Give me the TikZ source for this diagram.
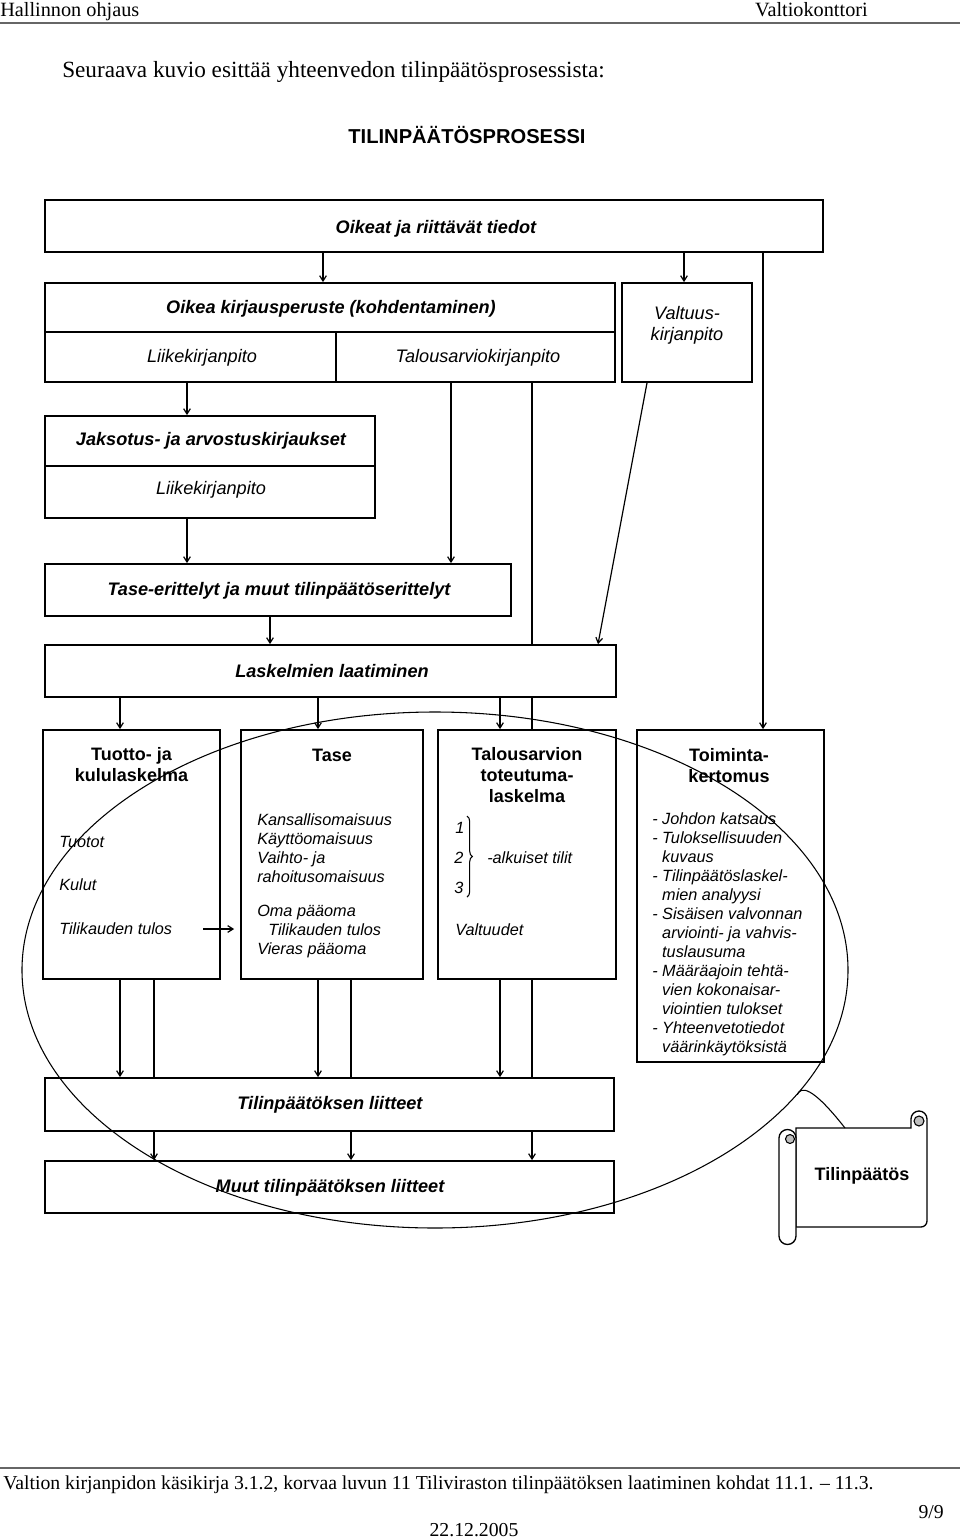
\documentclass[tikz,border=0pt]{standalone}
\usepackage{fontspec}
\setmainfont{Liberation Serif}
\setsansfont{Liberation Sans}
\usetikzlibrary{arrows.meta,shapes.geometric,fit,calc,decorations.pathreplacing}
\pgfdeclarelayer{background}
\pgfsetlayers{background,main}
\begin{document}
\begin{tikzpicture}[x=0.75pt,y=-0.75pt,
  box/.style={draw,line width=1.3pt,fill=white,inner sep=0pt},
  conn/.style={line width=0.9pt},
  arr/.style={line width=0.9pt,-{Straight Barb[length=4pt,width=5pt]}},
  tbi/.style={font=\sffamily\bfseries\itshape\fontsize{13.6}{16}\selectfont,inner sep=0pt,anchor=base},
  tit/.style={font=\sffamily\itshape\fontsize{13.6}{16}\selectfont,inner sep=0pt,anchor=base},
  hd/.style={font=\sffamily\bfseries\fontsize{13.5}{16.1}\selectfont,inner sep=0pt,anchor=base},
  sm/.style={font=\sffamily\itshape\fontsize{12.2}{14.3}\selectfont,inner sep=0pt,anchor=base west},
  ser/.style={inner sep=0pt},
  rulel/.style={line width=1.6pt,black!60}
]
\useasboundingbox (0,0) rectangle (960,1538);

% header and footer
\node[ser,anchor=base west,font=\fontsize{15.2}{18}\selectfont] (h1) at (0,17) {Hallinnon ohjaus};
\node[ser,anchor=base east,font=\fontsize{15.2}{18}\selectfont] (h2) at (868,17) {Valtiokonttori};
\draw[rulel] (0,23) -- (960,23);
\node[ser,anchor=base west,font=\fontsize{17.4}{21}\selectfont] (intro) at (62,78) {Seuraava kuvio esittää yhteenvedon tilinpäätösprosessista:};
\node[inner sep=0pt,anchor=base,font=\sffamily\bfseries\fontsize{15.1}{18}\selectfont] (title) at (467,143) {TILINPÄÄTÖSPROSESSI};
\draw[rulel] (0,1468) -- (960,1468);
\node[ser,anchor=base west,font=\fontsize{14.8}{18}\selectfont] (f1) at (3,1489) {Valtion kirjanpidon käsikirja 3.1.2, korvaa luvun 11 Tiliviraston tilinpäätöksen laatiminen kohdat 11.1. – 11.3.};
\node[ser,anchor=base east,font=\fontsize{14.8}{18}\selectfont] (f2) at (944,1518) {9/9};
\node[ser,anchor=base,font=\fontsize{14.8}{18}\selectfont] (f3) at (474,1536) {22.12.2005};

% x positions of connectors
\foreach \n in {120,154,187,270,318,323,351,451,500,532,598,647,684,763} \coordinate (c\n) at (\n,0);

% boxes
\node[box,fit={(45,200)(823,252)}] (A) {};
\node[box,fit={(45,283)(615,332)}] (Bt) {};
\node[box,fit={(45,332)(336,382)}] (Bl) {};
\node[box,fit={(336,332)(615,382)}] (Br) {};
\node[box,fit={(622,283)(752,382)}] (V) {};
\node[box,fit={(45,416)(375,466)}] (Jt) {};
\node[box,fit={(45,466)(375,518)}] (Jb) {};
\node[box,fit={(45,564)(511,616)}] (T) {};
\node[box,fit={(45,645)(616,697)}] (L) {};
\node[box,fit={(43,730)(220,979)}] (K1) {};
\node[box,fit={(241,730)(423,979)}] (K2) {};
\node[box,fit={(438,730)(616,979)}] (K3) {};
\node[box,fit={(637,730)(824,1062)}] (K4) {};
\node[box,fit={(45,1078)(614,1131)}] (LI) {};
\node[box,fit={(45,1161)(614,1213)}] (MU) {};

% connectors
\begin{pgfonlayer}{background}
\draw[arr] (A.south -| c323) -- (Bt.north -| c323);
\draw[arr] (A.south -| c684) -- (V.north -| c684);
\draw[arr] (A.south -| c763) -- (K4.north -| c763);
\draw[arr] (Bl.south -| c187) -- (Jt.north -| c187);
\draw[arr] (Br.south -| c451) -- (T.north -| c451);
\draw[conn] (Br.south -| c532) -- (K3.north -| c532);
\draw[arr] (V.south -| c647) -- (L.north -| c598);
\draw[arr] (Jb.south -| c187) -- (T.north -| c187);
\draw[arr] (T.south -| c270) -- (L.north -| c270);
\draw[arr] (L.south -| c120) -- (K1.north -| c120);
\draw[arr] (L.south -| c318) -- (K2.north -| c318);
\draw[arr] (L.south -| c500) -- (K3.north -| c500);
\draw[arr] (K1.south -| c120) -- (LI.north -| c120);
\draw[arr] (K2.south -| c318) -- (LI.north -| c318);
\draw[arr] (K3.south -| c500) -- (LI.north -| c500);
\draw[conn] (K1.south -| c154) -- (LI.north -| c154);
\draw[conn] (K2.south -| c351) -- (LI.north -| c351);
\draw[conn] (K3.south -| c532) -- (LI.north -| c532);
\draw[arr] (LI.south -| c154) -- (MU.north -| c154);
\draw[arr] (LI.south -| c351) -- (MU.north -| c351);
\draw[arr] (LI.south -| c532) -- (MU.north -| c532);
\end{pgfonlayer}

% texts
\node[tbi] (tA) at (436,233) {Oikeat ja riittävät tiedot};
\node[tbi] (tBt) at (331,313) {Oikea kirjausperuste (kohdentaminen)};
\node[tit] (tBl) at (202,362) {Liikekirjanpito};
\node[tit] (tBr) at (478,362) {Talousarviokirjanpito};
\node[tit] (tV) at (687,319) {\begin{tabular}[t]{@{}c@{}}Valtuus-\\kirjanpito\end{tabular}};
\node[tbi] (tJt) at (211,445) {Jaksotus- ja arvostuskirjaukset};
\node[tit] (tJb) at (211,494) {Liikekirjanpito};
\node[tbi] (tT) at (279,595) {Tase-erittelyt ja muut tilinpäätöserittelyt};
\node[tbi] (tL) at (332,677) {Laskelmien laatiminen};

\node[hd] (hK1) at (131.5,760) {\begin{tabular}[t]{@{}c@{}}Tuotto- ja\\kululaskelma\end{tabular}};
\node[sm] (k1a) at (59,847) {Tuotot};
\node[sm] (k1b) at (59,890) {Kulut};
\node[sm] (k1tulos) at (59,934) {Tilikauden tulos};
\draw[arr] ($(k1tulos.base east)+(31,-5)$) -- ($(k1tulos.base east -| K2.west)+(-6,-5)$);

\node[hd] (hK2) at (332,761) {Tase};
\node[sm] (k2list) at (257,825) {\begin{tabular}[t]{@{}l@{}}Kansallisomaisuus\\Käyttöomaisuus\\Vaihto- ja\\rahoitusomaisuus\\[11.25pt]Oma pääoma\\\hspace{8.25pt}Tilikauden tulos\\Vieras pääoma\end{tabular}};

\node[hd] (hK3) at (527,760) {\begin{tabular}[t]{@{}c@{}}Talousarvion\\toteutuma-\\laskelma\end{tabular}};
\node[sm] (n1) at (455,833) {1};
\node[sm] (n2) at (454,863) {2};
\node[sm] (n3) at (454,893) {3};
\draw[line width=0.8pt,decorate,decoration={brace,amplitude=4pt}] (467,816) -- (467,897);
\node[sm] (alk) at (487,863) {-alkuiset tilit};
\node[sm] (valt) at (455,935) {Valtuudet};

\node[hd] (hK4) at (729,761) {\begin{tabular}[t]{@{}c@{}}Toiminta-\\kertomus\end{tabular}};
\node[sm] (k4list) at (652,824) {\begin{tabular}[t]{@{}l@{\hspace{3.4pt}}l@{}}-&Johdon katsaus\\-&Tuloksellisuuden\\&kuvaus\\-&Tilinpäätöslaskel-\\&mien analyysi\\-&Sisäisen valvonnan\\&arviointi- ja vahvis-\\&tuslausuma\\-&Määräajoin tehtä-\\&vien kokonaisar-\\&viointien tulokset\\-&Yhteenvetotiedot\\&väärinkäytöksistä\end{tabular}};

\node[tbi] (tLI) at (330,1109) {Tilinpäätöksen liitteet};
\node[tbi] (tMU) at (330,1192) {Muut tilinpäätöksen liitteet};

% ellipse
\node[draw,ellipse,line width=0.8pt,minimum width=619.5pt,minimum height=387pt,inner sep=0pt] (oval) at (435,970) {};

% scroll
\filldraw[fill=white,line width=1pt] (796,1128) -- (911,1128) -- (911,1119) arc[start angle=180,end angle=360,radius=8] -- (927,1221) arc[start angle=0,end angle=90,radius=6] -- (796,1227) -- cycle;
\filldraw[fill=black!25,line width=0.8pt] (919,1121) circle[radius=5];
\filldraw[fill=white,line width=1pt] (779,1138) arc[start angle=180,end angle=360,radius=8.5] -- (796,1236) arc[start angle=0,end angle=180,radius=8.5] -- cycle;
\filldraw[fill=black!25,line width=0.8pt] (790,1139) circle[radius=4.5];
\node[hd] (scroll) at (862,1180) {Tilinpäätös};
\coordinate (scrolltip) at (845,1128);
\draw[line width=0.8pt] (oval.-19.4) .. controls (801,1086) and (812,1086) .. (scrolltip);
\end{tikzpicture}
\end{document}
